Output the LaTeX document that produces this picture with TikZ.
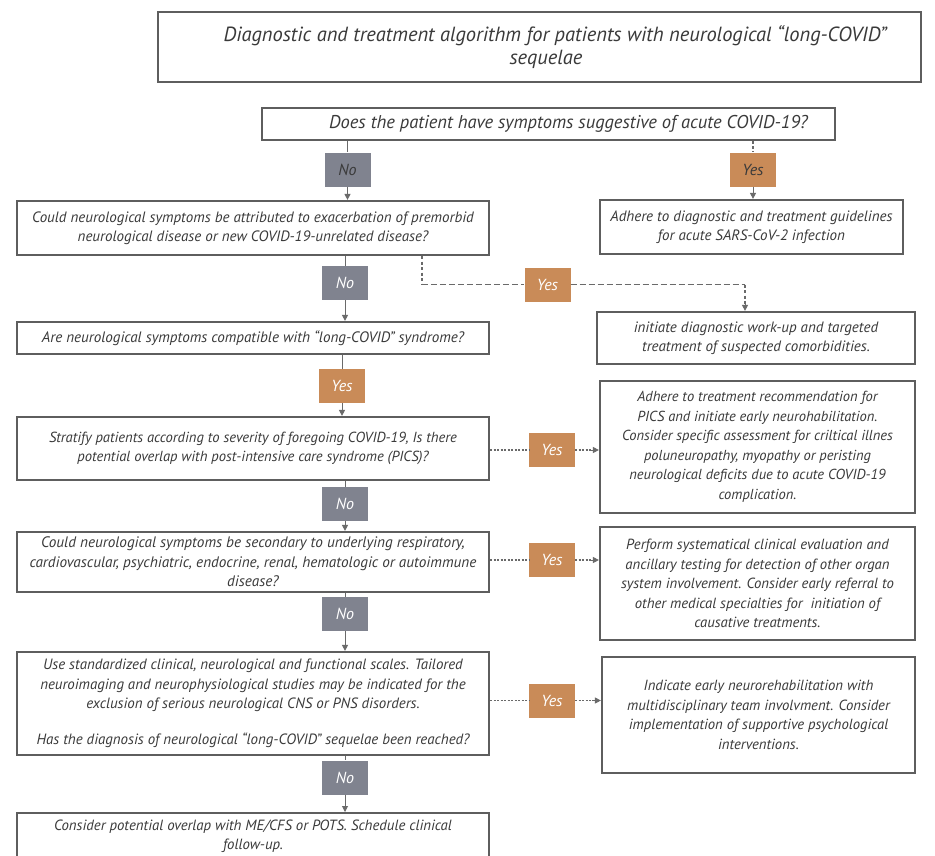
\documentclass[tikz,border=0pt]{standalone}
\usepackage{fontspec}
\setmainfont{PT Sans}
\newfontfamily\boxfont{PT Sans}
\usetikzlibrary{arrows.meta,positioning,calc}
\definecolor{frame}{HTML}{5E5E5E}
\definecolor{txt}{HTML}{3A3A3A}
\definecolor{nogray}{HTML}{80838F}
\definecolor{yesorange}{HTML}{C98B58}
\definecolor{link}{HTML}{6A6A6A}
\tikzset{
  box/.style={draw=frame, line width=2.2pt, fill=white, align=center, text=txt,
    font=\boxfont\itshape\fontsize{15}{19.5}\selectfont, inner sep=2pt},
  lab/.style={minimum width=46pt, minimum height=34pt, inner sep=0pt, text=white,
    font=\boxfont\itshape\fontsize{16}{18}\selectfont},
  nolab/.style={lab, fill=nogray},
  yeslab/.style={lab, fill=yesorange},
  solidlink/.style={draw=link, line width=0.9pt, -{Triangle[length=6pt,width=6pt]}},
  solidline/.style={draw=link, line width=0.9pt},
  dashlink/.style={draw=link, line width=1.6pt, dash pattern=on 6pt off 3pt},
  dotlink/.style={draw=link, line width=1.8pt, dash pattern=on 2pt off 1.5pt},
}
\begin{document}
\begin{tikzpicture}[x=1pt,y=-1pt]
\useasboundingbox (0,0) rectangle (935,855);
\fill[white] (0,0) rectangle (935,855);

% title
\node[box, minimum width=763pt, minimum height=70pt, font=\boxfont\itshape\fontsize{20.5}{23.5}\selectfont] (title) at (539.5,47)
  {\hspace*{31pt}Diagnostic and treatment algorithm for patients with neurological “long-COVID”\\ \hspace*{13pt}sequelae};

% question 1
\node[box, minimum width=573pt, minimum height=32pt, font=\boxfont\itshape\fontsize{18.5}{20}\selectfont] (q1) at (548.5,124)
  {\hspace*{40pt}Does the patient have symptoms suggestive of acute COVID-19?};

% left column
\node[box, minimum width=472pt, minimum height=54pt, font=\boxfont\itshape\fontsize{15}{19.5}\selectfont] (q2) at (253,228)
  {Could neurological symptoms be attributed to exacerbation of premorbid\\ neurological disease or new COVID-19-unrelated disease?};
\node[box, minimum width=472pt, minimum height=32pt, font=\boxfont\itshape\fontsize{15.1}{19.5}\selectfont] (q3) at (253,338)
  {Are neurological symptoms compatible with “long-COVID” syndrome?};
\node[box, minimum width=472pt, minimum height=63pt, font=\boxfont\itshape\fontsize{14.6}{19.5}\selectfont] (q4) at (253,448.5)
  {Stratify patients according to severity of foregoing COVID-19, Is there\\ potential overlap with post-intensive care syndrome (PICS)?};
\node[box, minimum width=472pt, minimum height=60pt, font=\boxfont\itshape\fontsize{15.2}{19.5}\selectfont] (q5) at (253,562)
  {Could neurological symptoms be secondary to underlying respiratory,\\ cardiovascular, psychiatric, endocrine, renal, hematologic or autoimmune\\ disease?};
\node[box, minimum width=472pt, minimum height=103pt, font=\boxfont\itshape\fontsize{14.9}{19.4}\selectfont] (q6) at (253,703.5)
  {Use standardized clinical, neurological and functional scales. Tailored\\ neuroimaging and neurophysiological studies may be indicated for the\\ exclusion of serious neurological CNS or PNS disorders.\\[17pt] Has the diagnosis of neurological “long-COVID” sequelae been reached?};
\node[box, minimum width=472pt, minimum height=46pt, anchor=north, font=\boxfont\itshape\fontsize{14.8}{19}\selectfont] (q7) at (253,812)
  {Consider potential overlap with ME/CFS or POTS. Schedule clinical\\ follow-up.};

% right column
\node[box, minimum width=303pt, minimum height=54pt] (acute) at (751.5,227)
  {Adhere to diagnostic and treatment guidelines\\ for acute SARS-CoV-2 infection};
\node[box, minimum width=318pt, minimum height=52pt] (comorb) at (756,338)
  {initiate diagnostic work-up and targeted\\ treatment of suspected comorbidities.};
\node[box, minimum width=315pt, minimum height=132pt, font=\boxfont\itshape\fontsize{14.5}{19.5}\selectfont] (pics) at (757.5,447)
  {Adhere to treatment recommendation for\\ PICS and initiate early neurohabilitation.\\ Consider specific assessment for criltical illnes\\ poluneuropathy, myopathy or peristing\\ neurological deficits due to acute COVID-19\\ complication.};
\node[box, minimum width=315pt, minimum height=113pt, font=\boxfont\itshape\fontsize{14.7}{19.5}\selectfont] (perform) at (757.5,583.5)
  {Perform systematical clinical evaluation and\\ ancillary testing for detection of other organ\\ system involvement. Consider early referral to\\ other medical specialties for\ \ initiation of\\ causative treatments.};
\node[box, minimum width=313pt, minimum height=116pt, font=\boxfont\itshape\fontsize{14.7}{19.5}\selectfont] (rehab) at (758.5,715)
  {Indicate early neurorehabilitation with\\ multidisciplinary team involvment. Consider\\ implementation of supportive psychological\\ interventions.};

% labels
\node[nolab, text=txt] (no1) at (347.5,169.5) {No};
\node[yeslab, text=txt] (yes1) at (753,169.5) {Yes};
\node[nolab] (no2) at (345,283) {No};
\node[yeslab] (yes2) at (547.5,284.5) {Yes};
\node[yeslab] (yes3) at (342,386) {Yes};
\node[yeslab] (yes4) at (552,450) {Yes};
\node[nolab] (no4) at (345,504) {No};
\node[yeslab] (yes5) at (552,560) {Yes};
\node[nolab] (no5) at (345,614) {No};
\node[yeslab] (yes6) at (552,700.5) {Yes};
\node[nolab] (no6) at (345,777.5) {No};

% main vertical flow
\draw[solidline] (q1.south -| no1) -- (no1.north);
\draw[solidlink] (no1.south) -- (no1.south |- q2.north);
\draw[dashlink, dash pattern=on 3pt off 2pt, line width=1.2pt] (q1.south -| yes1) -- (yes1.north);
\draw[solidlink] (yes1.south) -- (yes1.south |- acute.north);
\draw[solidline] (q2.south -| no2) -- (no2.north);
\draw[solidlink] (no2.south) -- (no2.south |- q3.north);
\draw[solidline] (q3.south -| yes3) -- (yes3.north);
\draw[solidlink] (yes3.south) -- (yes3.south |- q4.north);
\draw[solidline] (q4.south -| no4) -- (no4.north);
\draw[solidlink] (no4.south) -- (no4.south |- q5.north);
\draw[solidline] (q5.south -| no5) -- (no5.north);
\draw[solidlink] (no5.south) -- (no5.south |- q6.north);
\draw[solidline] (q6.south -| no6) -- (no6.north);
\draw[solidlink] (no6.south) -- (no6.south |- q7.north);

% dashed branch from q2
\coordinate (d1) at ($(q2.south west)!0.856!(q2.south east)$);
\coordinate (d3) at (745,312);
\draw[dashlink, dash pattern=on 3pt off 2.5pt] (d1) -- (d1 |- yes2);
\draw[dashlink] (d1 |- yes2) -- (yes2.west);
\draw[dashlink] (yes2.east) -- (yes2 -| d3);
\draw[dashlink, dash pattern=on 3pt off 2.5pt] (yes2 -| d3) -- ($(d3 |- comorb.north)+(0,-7)$);
\draw[solidlink] ($(d3 |- comorb.north)+(0,-8)$) -- (d3 |- comorb.north);

% dotted branches
\draw[dotlink] (yes4.west -| q4.east) -- (yes4.west);
\draw[dotlink] (yes4.east) -- ($(yes4.east -| pics.west)+(-8,0)$);
\draw[solidlink] ($(yes4.east -| pics.west)+(-9,0)$) -- (yes4.east -| pics.west);
\draw[dotlink] (yes5.west -| q5.east) -- (yes5.west);
\draw[dotlink] (yes5.east) -- ($(yes5.east -| perform.west)+(-8,0)$);
\draw[solidlink] ($(yes5.east -| perform.west)+(-9,0)$) -- (yes5.east -| perform.west);
\draw[dotlink] (yes6.west -| q6.east) -- (yes6.west);
\draw[dotlink] (yes6.east) -- ($(yes6.east -| rehab.west)+(-8,0)$);
\draw[solidlink] ($(yes6.east -| rehab.west)+(-9,0)$) -- (yes6.east -| rehab.west);
\end{tikzpicture}
\end{document}
